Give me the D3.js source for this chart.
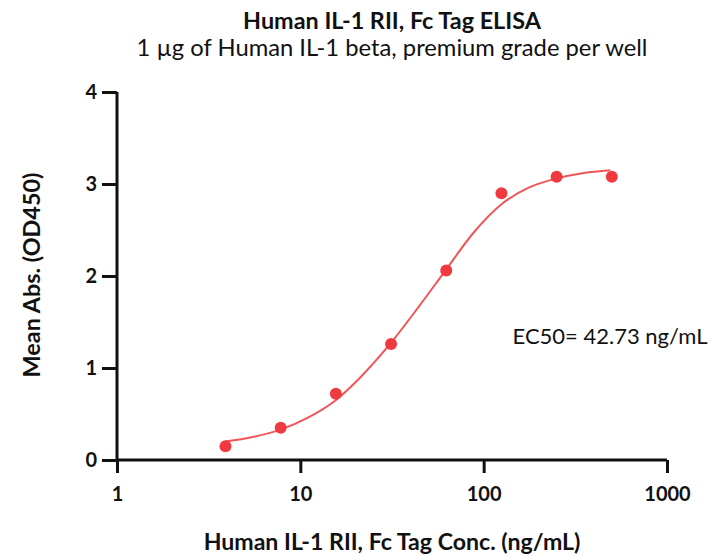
<!DOCTYPE html>
<html>
<head>
<meta charset="utf-8">
<script src="https://cdn.jsdelivr.net/npm/d3@7"></script>
<style>
  body { margin: 0; background: #fff; }
  text { font-family: Lato, "Open Sans", sans-serif; fill: #111; }
</style>
</head>
<body>
<div id="chart"></div>
<script>
// chart size
const width = 713, height = 555;
const padding = {top: 92, right: 46, bottom: 95, left: 117};

const PointCol = "#ef3b40";
const LineCol = "#f25557";

// measured points (ng/mL, OD450)
const conc = [3.906, 7.8125, 15.625, 31.25, 62.5, 125, 250, 500];
const od = [0.15, 0.35, 0.72, 1.26, 2.06, 2.90, 3.08, 3.08];

// fitted curve
const fitConc = [3.9, 5.5, 7.8, 11, 15.6, 22, 31.1, 44, 62.4, 88, 125, 176, 250, 352, 490];
const fitOd = [0.20, 0.25, 0.33, 0.46, 0.65, 0.93, 1.27, 1.66, 2.07, 2.47, 2.78, 2.96, 3.06, 3.12, 3.15];

const xTicks = [1, 10, 100, 1000];
const yTicks = [0, 1, 2, 3, 4];

const svg = d3.select("#chart").append("svg")
  .attr("width", width)
  .attr("height", height);

// x Axis
const x = d3.scaleLog().domain([1, 1000]).range([padding.left, width - padding.right]);
const xAxis = d3.axisBottom(x).tickValues(xTicks).tickFormat(d3.format("d")).tickSize(13).tickPadding(14);

// y Axis
const y = d3.scaleLinear().domain([0, 4]).range([height - padding.bottom, padding.top]);
const yAxis = d3.axisLeft(y).tickValues(yTicks).tickFormat(d3.format("d")).tickSize(15).tickPadding(5);

svg.append("g")
  .attr("class", "axis x")
  .attr("transform", "translate(0," + (height - padding.bottom) + ")")
  .call(xAxis);

svg.append("g")
  .attr("class", "axis y")
  .attr("transform", "translate(" + padding.left + ",0)")
  .call(yAxis);

svg.selectAll(".axis path, .axis line")
  .attr("stroke", "#111")
  .attr("stroke-width", 3);
svg.selectAll(".axis path").attr("d", function(){
  return d3.select(this.parentNode).classed("x")
    ? "M" + padding.left + ",0H" + (width - padding.right)
    : "M0," + (height - padding.bottom) + "V" + padding.top;
});
svg.selectAll(".axis text")
  .attr("font-family", "Open Sans")
  .attr("font-weight", "bold")
  .attr("font-size", 20)
  .attr("fill", "#111");

// fitted line
svg.append("path")
  .datum(d3.zip(fitConc, fitOd))
  .attr("fill", "none")
  .attr("stroke", LineCol)
  .attr("stroke-width", 2)
  .attr("d", d3.line()
    .x(function(d){ return x(d[0]); })
    .y(function(d){ return y(d[1]); })
    .curve(d3.curveMonotoneX));

// points
svg.selectAll(".pt")
  .data(d3.zip(conc, od))
  .join("circle")
    .attr("class", "pt")
    .attr("cx", function(d){ return x(d[0]); })
    .attr("cy", function(d){ return y(d[1]); })
    .attr("r", 6)
    .attr("fill", PointCol);

// size a label so it spans the wanted width
function fit(sel, w){
  const len = sel.node().getComputedTextLength();
  const fs = parseFloat(sel.attr("font-size"));
  sel.attr("font-size", fs * w / len);
  return sel;
}

// titles
fit(svg.append("text")
  .attr("x", 392).attr("y", 29)
  .attr("text-anchor", "middle")
  .attr("font-weight", "bold")
  .attr("font-size", 18)
  .text("Human IL-1 RII, Fc Tag ELISA"), 298);

fit(svg.append("text")
  .attr("x", 392).attr("y", 56)
  .attr("text-anchor", "middle")
  .attr("font-size", 18)
  .text("1 µg of Human IL-1 beta, premium grade per well"), 511);

fit(svg.append("text")
  .attr("x", 610).attr("y", 344)
  .attr("text-anchor", "middle")
  .attr("font-size", 18)
  .text("EC50= 42.73 ng/mL"), 195);

// axis titles
fit(svg.append("text")
  .attr("x", 392).attr("y", 550)
  .attr("text-anchor", "middle")
  .attr("font-weight", "bold")
  .attr("font-size", 18)
  .text("Human IL-1 RII, Fc Tag Conc. (ng/mL)"), 377);

fit(svg.append("text")
  .attr("transform", "translate(40,275) rotate(-90)")
  .attr("text-anchor", "middle")
  .attr("font-weight", "bold")
  .attr("font-size", 18)
  .text("Mean Abs. (OD450)"), 205);
</script>
</body>
</html>
